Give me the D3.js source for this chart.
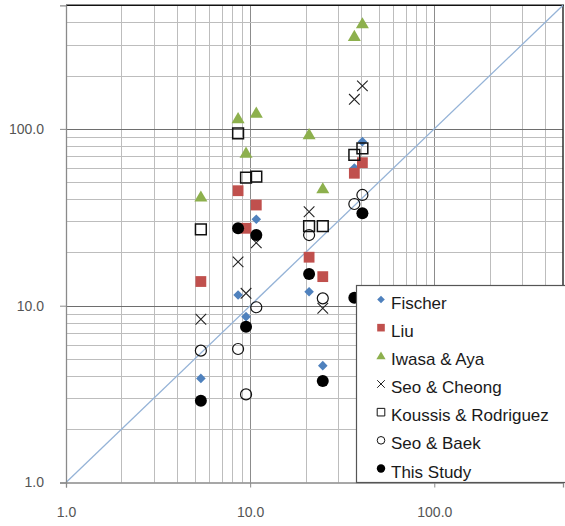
<!DOCTYPE html>
<html><head><meta charset="utf-8">
<script src="https://cdn.jsdelivr.net/npm/d3@7"></script>
<style>html,body{margin:0;padding:0;background:#fff}svg{display:block}</style>
</head><body>
<svg id="chart" width="565" height="526"></svg>
<script>
const xPositions = [5.4, 8.6, 9.5, 10.8, 20.9, 24.8, 36.8, 40.7];
const fischer   = [3.88, 11.5, 8.67, 30.8, 12.0, 4.58, 60.0, 84.7];
const liu       = [13.7, 44.7, 27.4, 37.1, 18.8, 14.6, 56.1, 64.4];
const iwasaAya  = [41.4, 114.8, 73.3, 123.5, 93.2, 46.1, 335, 395];
const seoCheong = [8.38, 17.7, 11.75, 22.7, 34.0, 9.67, 147, 175];
const koussis   = [27.0, 94.4, 53.0, 53.7, 28.2, 28.2, 71.2, 77.6];
const seoBaek   = [5.57, 5.69, 3.15, 9.8, 25.1, 11.0, 37.6, 42.3];
const thisStudy = [2.90, 27.4, 7.61, 25.1, 15.1, 3.75, 11.1, 33.3];
const seriesNames = ["Fischer","Liu","Iwasa & Aya","Seo & Cheong","Koussis & Rodriguez","Seo & Baek","This Study"];
const tickLabels = [1, 10, 100];

const svg = d3.select("#chart");
const x = d3.scaleLog().domain([1,500]).range([66,563]);
const y = d3.scaleLog().domain([1,500]).range([482.5,5.3]);

const gridVals = [];
[1,10,100].forEach(d=>{ for(let k=1;k<10;k++){ const v=d*k; if(v>1 && v<500) gridVals.push(v);} });

const g = svg.append("g");
g.selectAll("line.vg").data(gridVals).enter().append("line")
  .attr("x1",d=>Math.round(x(d))+0.5).attr("x2",d=>Math.round(x(d))+0.5)
  .attr("y1",y(500)).attr("y2",y(1))
  .attr("stroke",d=>(d===10||d===100)?"#8c8c8c":"#bdbdbd").attr("stroke-width",1);
g.selectAll("line.hg").data(gridVals).enter().append("line")
  .attr("y1",d=>Math.round(y(d))+0.5).attr("y2",d=>Math.round(y(d))+0.5)
  .attr("x1",x(1)).attr("x2",x(500))
  .attr("stroke",d=>(d===10||d===100)?"#6e6e6e":"#bdbdbd").attr("stroke-width",1);

g.append("line").attr("x1",x(1)).attr("x2",x(500)+1).attr("y1",y(500)).attr("y2",y(500)).attr("stroke","#111").attr("stroke-width",1.6);
g.append("line").attr("x1",x(500)).attr("x2",x(500)).attr("y1",y(500)).attr("y2",y(1)).attr("stroke","#222").attr("stroke-width",1.4);

g.append("line").attr("x1",x(1)).attr("y1",y(1)).attr("x2",x(500)).attr("y2",y(500))
  .attr("stroke","#95b3d7").attr("stroke-width",1.3);

const xAxis = d3.axisBottom(x).tickValues(tickLabels).tickFormat(d3.format(".1f")).tickSize(5).tickPadding(20);
const yAxis = d3.axisLeft(y).tickValues(tickLabels).tickFormat(d3.format(".1f")).tickSize(6).tickPadding(16);
const xa = svg.append("g").attr("transform",`translate(0,${y(1)})`).call(xAxis);
const ya = svg.append("g").attr("transform",`translate(${x(1)},0)`).call(yAxis);
[xa,ya].forEach(a=>{
  a.select(".domain").attr("stroke","#8a8a8a").attr("stroke-width",1.3);
  a.selectAll(".tick line").attr("stroke","#8a8a8a");
  a.selectAll("text").attr("fill","#555").style("font-family","'Liberation Sans', Arial, sans-serif").style("font-size","14px");
});

function diamond(s){return `M0,${-s}L${s},0L0,${s}L${-s},0Z`;}
function square(s){return `M${-s},${-s}H${s}V${s}H${-s}Z`;}
function triangle(s){return `M0,${-s}L${s*1.05},${s*0.8}L${-s*1.05},${s*0.8}Z`;}
function cross(s){return `M${-s},${-s}L${s},${s}M${s},${-s}L${-s},${s}`;}
function circle(r){return `M${r},0A${r},${r} 0 1,1 ${-r},0A${r},${r} 0 1,1 ${r},0Z`;}

const series = [
  {vals:fischer,   path:diamond(4.8), fill:"#4f81bd", stroke:"none", sw:0, lpath:diamond(3.8)},
  {vals:liu,       path:square(5.4), fill:"#c0504d", stroke:"none", sw:0, lpath:square(3.8)},
  {vals:iwasaAya,  path:triangle(6.2), fill:"#8db04d", stroke:"none", sw:0, lpath:triangle(4.4)},
  {vals:seoCheong, path:cross(5.3), fill:"none", stroke:"#222", sw:1.1, lpath:cross(3.8)},
  {vals:koussis,   path:square(5.4), fill:"none", stroke:"#111", sw:1.5, lpath:square(3.8)},
  {vals:seoBaek,   path:circle(5.5), fill:"none", stroke:"#111", sw:1.2, lpath:circle(3.8)},
  {vals:thisStudy, path:circle(6), fill:"#000", stroke:"none", sw:0, lpath:circle(4.2)}
];

series.forEach(s=>{
  svg.append("g").selectAll("path").data(s.vals.map((v,i)=>[xPositions[i],v])).enter().append("path")
    .attr("d",s.path)
    .attr("transform",d=>`translate(${x(d[0])},${y(d[1])})`)
    .attr("fill",s.fill).attr("stroke",s.stroke).attr("stroke-width",s.sw);
});

const leg = svg.append("g");
leg.append("rect").attr("x",356.5).attr("y",285.5).attr("width",220).attr("height",197)
  .attr("fill","#fff").attr("stroke","#555").attr("stroke-width",1.2);
const legY = d3.scaleLinear().domain([0,6]).range([302.5,471.5]);
series.forEach((s,i)=>{
  leg.append("path").attr("d",s.lpath)
    .attr("transform",`translate(381,${legY(i)-3})`)
    .attr("fill",s.fill).attr("stroke",s.stroke).attr("stroke-width",s.sw?1:0);
  leg.append("text").attr("x",391).attr("y",legY(i)+6)
    .text(seriesNames[i])
    .attr("fill","#1a1a1a")
    .style("font-family","'Liberation Sans', Arial, sans-serif").style("font-size","17px");
});
</script>
</body></html>
